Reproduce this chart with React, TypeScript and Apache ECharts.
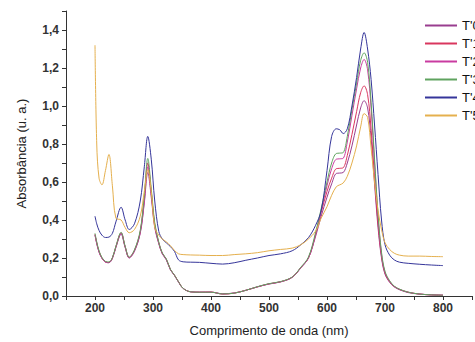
import React, { useEffect, useRef } from "react";
import * as echarts from "echarts";

const wavelengths = [200, 203, 207, 212, 218, 224, 230, 236, 245, 252, 259, 268, 278, 285, 291, 297, 303, 310, 316, 323, 330, 337, 344, 352, 365, 380, 400, 420, 440, 460, 480, 500, 520, 540, 555, 568, 580, 590, 600, 608, 616, 622, 628, 635, 643, 651, 658, 664, 670, 676, 682, 688, 694, 700, 708, 716, 725, 740, 760, 780, 800];

const seriesNames = ["T'0", "T'1", "T'2", "T'3", "T'4", "T'5"];
const seriesColors = ["#993d8f", "#d9365e", "#c93ba0", "#5fa35f", "#35359a", "#e5b04e"];

const t0 = [0.32, 0.275, 0.23, 0.198, 0.178, 0.175, 0.198, 0.255, 0.325, 0.255,
  0.2, 0.235, 0.33, 0.49, 0.65, 0.52, 0.36, 0.275, 0.222, 0.19,
  0.138, 0.108, 0.073, 0.04, 0.022, 0.02, 0.02, 0.012, 0.016, 0.03,
  0.048, 0.063, 0.074, 0.098, 0.148, 0.2, 0.31, 0.42, 0.52, 0.59,
  0.645, 0.647, 0.65, 0.7, 0.79, 0.9, 0.99, 1.028, 0.99, 0.83,
  0.59, 0.36, 0.2, 0.115, 0.072, 0.048, 0.033, 0.018, 0.01, 0.006, 0.004];

const t1 = [0.325, 0.28, 0.235, 0.2, 0.18, 0.177, 0.2, 0.26, 0.333, 0.26,
  0.203, 0.24, 0.34, 0.52, 0.7, 0.55, 0.377, 0.28, 0.225, 0.194,
  0.14, 0.11, 0.075, 0.04, 0.022, 0.02, 0.021, 0.01, 0.015, 0.03,
  0.048, 0.064, 0.075, 0.099, 0.15, 0.2, 0.32, 0.44, 0.55, 0.62,
  0.67, 0.672, 0.675, 0.74, 0.85, 0.97, 1.07, 1.106, 1.06, 0.88,
  0.62, 0.38, 0.21, 0.12, 0.075, 0.05, 0.035, 0.02, 0.01, 0.006, 0.004];

const t2 = [0.322, 0.278, 0.232, 0.199, 0.179, 0.176, 0.199, 0.258, 0.33, 0.258,
  0.202, 0.238, 0.335, 0.5, 0.68, 0.535, 0.37, 0.278, 0.224, 0.192,
  0.139, 0.109, 0.074, 0.04, 0.022, 0.02, 0.02, 0.011, 0.015, 0.03,
  0.048, 0.064, 0.075, 0.099, 0.15, 0.2, 0.32, 0.45, 0.58, 0.67,
  0.72, 0.722, 0.725, 0.81, 0.95, 1.09, 1.2, 1.245, 1.19, 0.99,
  0.7, 0.42, 0.22, 0.125, 0.078, 0.05, 0.035, 0.02, 0.01, 0.006, 0.004];

const t3 = [0.33, 0.285, 0.238, 0.203, 0.182, 0.179, 0.202, 0.262, 0.335, 0.262,
  0.205, 0.243, 0.345, 0.53, 0.724, 0.565, 0.385, 0.283, 0.227, 0.195,
  0.141, 0.11, 0.075, 0.04, 0.022, 0.02, 0.02, 0.011, 0.015, 0.03,
  0.049, 0.065, 0.076, 0.1, 0.152, 0.205, 0.33, 0.46, 0.6, 0.7,
  0.75, 0.752, 0.755, 0.84, 0.98, 1.12, 1.24, 1.28, 1.23, 1.02,
  0.72, 0.43, 0.23, 0.13, 0.08, 0.052, 0.036, 0.02, 0.01, 0.006, 0.004];

const t4 = [0.42, 0.38, 0.345, 0.32, 0.308, 0.31, 0.33, 0.39, 0.467, 0.4,
  0.35, 0.38, 0.5, 0.68, 0.84, 0.72, 0.5, 0.34, 0.3, 0.28,
  0.26, 0.235, 0.19, 0.18, 0.178, 0.177, 0.172, 0.168, 0.175, 0.188,
  0.2, 0.213, 0.222, 0.238, 0.27, 0.307, 0.37, 0.45, 0.66, 0.84,
  0.88, 0.875, 0.855, 0.88, 1.0, 1.15, 1.3, 1.387, 1.3, 1.14,
  0.9, 0.64, 0.4, 0.27, 0.215, 0.19, 0.178, 0.172, 0.167, 0.163, 0.16];

const t5 = [1.32, 0.8, 0.62, 0.585, 0.66, 0.745, 0.58, 0.41, 0.4, 0.36,
  0.333, 0.35, 0.42, 0.55, 0.665, 0.55, 0.36, 0.32, 0.3, 0.285,
  0.265, 0.24, 0.222, 0.218, 0.216, 0.215, 0.213, 0.213, 0.218, 0.222,
  0.228, 0.238, 0.245, 0.252, 0.27, 0.3, 0.34, 0.41, 0.47, 0.53,
  0.575, 0.585, 0.595, 0.63, 0.7, 0.79, 0.89, 0.96, 0.94, 0.78,
  0.6, 0.45, 0.35, 0.28, 0.245, 0.225, 0.215, 0.21, 0.21, 0.208, 0.207];

const allValues = [t0, t1, t2, t3, t4, t5];

export default function App() {
  const ref = useRef<HTMLDivElement>(null);
  useEffect(() => {
    if (!ref.current) return;
    const chart = echarts.init(ref.current, undefined, { renderer: "svg" });
    const font = "'Liberation Sans', Arial, sans-serif";
    chart.setOption({
      animation: false,
      backgroundColor: "#ffffff",
      grid: { left: 66, top: 11, right: -4.7, bottom: 43, containLabel: false },
      legend: {
        orient: "vertical",
        left: 419,
        top: 14,
        padding: 5,
        itemWidth: 32,
        itemHeight: 14,
        itemGap: 5,
        itemStyle: { opacity: 0 },
        textStyle: { fontFamily: font, fontSize: 13, color: "#111" },
        data: seriesNames,
      },
      xAxis: {
        type: "value",
        min: 150,
        max: 850,
        interval: 50,
        name: "Comprimento de onda (nm)",
        nameLocation: "middle",
        nameGap: 28,
        nameTextStyle: { fontFamily: font, fontSize: 13, color: "#222" },
        axisLine: { lineStyle: { color: "#333", width: 1 } },
        axisTick: { show: true, length: 4, lineStyle: { color: "#333" } },
        axisLabel: {
          fontFamily: font,
          fontSize: 12,
          fontWeight: "bold",
          color: "#333",
          margin: 6,
          formatter: (v: number) => (v % 100 === 0 && v >= 200 && v <= 800 ? String(v) : ""),
        },
        splitLine: { show: false },
      },
      yAxis: {
        type: "value",
        min: 0,
        max: 1.5,
        interval: 0.1,
        name: "Absorbância (u. a.)",
        nameLocation: "middle",
        nameGap: 38,
        nameTextStyle: { fontFamily: font, fontSize: 13, color: "#222" },
        axisLine: { show: true, lineStyle: { color: "#333", width: 1 } },
        axisTick: { show: true, length: 4, lineStyle: { color: "#333" } },
        axisLabel: {
          fontFamily: font,
          fontSize: 12,
          fontWeight: "bold",
          color: "#333",
          margin: 7,
          formatter: (v: number) => {
            const k = Math.round(v * 10);
            return k % 2 === 0 && k <= 14 ? (k / 10).toFixed(1).replace(".", ",") : "";
          },
        },
        splitLine: { show: false },
      },
      series: seriesNames.map((name, i) => ({
        name,
        type: "line",
        symbol: "none",
        smooth: 0.35,
        color: seriesColors[i],
        lineStyle: { width: 1, color: seriesColors[i] },
        data: wavelengths.map((w, j) => [w, allValues[i][j]]),
      })),
    });
    return () => chart.dispose();
  }, []);
  return <div ref={ref} style={{ width: 475, height: 342, position: "absolute", left: 0, top: 0 }} />;
}
